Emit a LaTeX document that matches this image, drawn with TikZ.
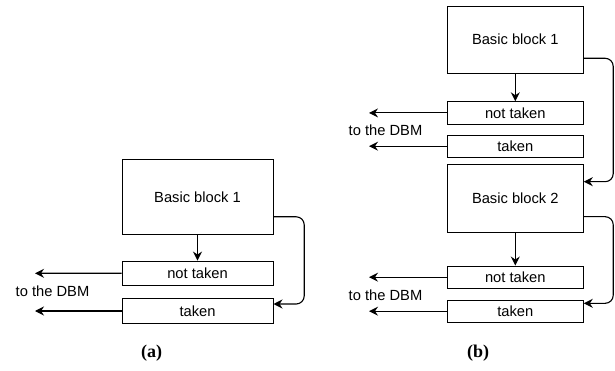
\documentclass[tikz,border=0pt]{standalone}
\usepackage{fontspec}
\newfontfamily\boxfont{Liberation Sans}
\newfontfamily\capfont{Liberation Serif}
\usetikzlibrary{arrows.meta, positioning}

\tikzset{
  block/.style={draw, line width=1pt, rectangle, inner sep=0pt,
    font=\boxfont\fontsize{14.7}{17}\selectfont},
  flow/.style={line width=1.1pt, -{Stealth[length=9pt, width=9pt, inset=3pt]}},
  note/.style={font=\boxfont\fontsize{14.7}{17}\selectfont},
  caption/.style={font=\capfont\bfseries\fontsize{18}{21}\selectfont}
}

\begin{document}
\begin{tikzpicture}[x=1pt, y=-1pt]
  \useasboundingbox (0,0) rectangle (615,371);

  %Define nodes (a)
  \node[block, minimum width=151pt, minimum height=75pt] (bb_a) at (197.5,196.8) {Basic block 1};
  \node[block, minimum width=151pt, minimum height=24.3pt] (nt_a) at (197.5,273.2) {not taken};
  \node[block, minimum width=151pt, minimum height=24.6pt] (tk_a) at (197.5,311) {taken};
  \coordinate (dbm_a1) at (35,273.3);
  \coordinate (dbm_a2) at (35,311);
  \node[note] (lbl_a) at (52.5,291.7) {to the DBM};
  \node[caption] (cap_a) at (151.7,353) {(a)};

  %Define nodes (b)
  \node[block, minimum width=136pt, minimum height=67.3pt] (bb_b1) at (515.3,39.7) {Basic block 1};
  \node[block, minimum width=136pt, minimum height=22.3pt] (nt_b1) at (515.3,112.9) {not taken};
  \node[block, minimum width=136pt, minimum height=22.3pt] (tk_b1) at (515.3,146.2) {taken};
  \node[block, minimum width=136pt, minimum height=68pt] (bb_b2) at (515.3,198.3) {Basic block 2};
  \node[block, minimum width=136pt, minimum height=22.3pt] (nt_b2) at (515.3,277.2) {not taken};
  \node[block, minimum width=136pt, minimum height=22.3pt] (tk_b2) at (515.3,311.2) {taken};
  \coordinate (dbm_b1) at (369,112.9);
  \coordinate (dbm_b2) at (369,146.2);
  \coordinate (dbm_b3) at (369,277.2);
  \coordinate (dbm_b4) at (369,311.2);
  \node[note] (lbl_b1) at (385.5,130) {to the DBM};
  \node[note] (lbl_b2) at (385.5,295) {to the DBM};
  \node[caption] (cap_b) at (478,353) {(b)};

  % Connect the nodes
  \draw[flow] (bb_a) -- (nt_a);
  \draw[flow] (nt_a) -- (dbm_a1);
  \draw[flow] (tk_a) -- (dbm_a2);
  \draw[flow, rounded corners=8pt] ([yshift=-20pt]bb_a.east) -- ++(30.7,0) |- ([yshift=7pt]tk_a.east);

  \draw[flow] (bb_b1) -- (nt_b1);
  \draw[flow] (nt_b1) -- (dbm_b1);
  \draw[flow] (tk_b1) -- (dbm_b2);
  \draw[flow, rounded corners=8pt] ([yshift=-18.6pt]bb_b1.east) -- ++(29.4,0) |- ([yshift=16.6pt]bb_b2.east);
  \draw[flow] (bb_b2) -- (nt_b2);
  \draw[flow] (nt_b2) -- (dbm_b3);
  \draw[flow] (tk_b2) -- (dbm_b4);
  \draw[flow, rounded corners=8pt] ([yshift=-18.4pt]bb_b2.east) -- ++(29.4,0) |- ([yshift=7.9pt]tk_b2.east);

\end{tikzpicture}
\end{document}
